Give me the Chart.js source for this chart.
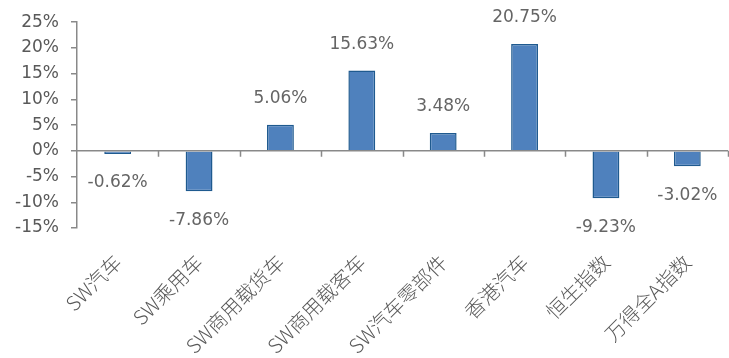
<!DOCTYPE html>
<html>
<head>
<meta charset="utf-8">
<script src="https://cdn.jsdelivr.net/npm/chart.js@4/dist/chart.umd.min.js"></script>
<style>
  html, body { margin: 0; padding: 0; background: #ffffff; }
  #wrap { width: 729px; height: 358px; position: relative; }
</style>
</head>
<body>
<div id="wrap"><canvas id="c" width="729" height="358"></canvas></div>
<script>
// Categories and returns (%)
const categories = ['SW汽车', 'SW乘用车', 'SW商用载货车', 'SW商用载客车', 'SW汽车零部件', '香港汽车', '恒生指数', '万得全A指数'];
const returns = [-0.62, -7.86, 5.06, 15.63, 3.48, 20.75, -9.23, -3.02];
const yTicks = [-15, -10, -5, 0, 5, 10, 15, 20, 25];

const axisGray = '#898989';
const textGray = '#595959';

// Zero baseline with small downward tick marks between categories
const zeroAxis = {
  id: 'zeroAxis',
  afterDatasetsDraw(chart) {
    const { ctx, chartArea, scales } = chart;
    const y0 = scales.y.getPixelForValue(0);
    const xs = scales.x;
    ctx.save();
    ctx.strokeStyle = axisGray;
    ctx.lineWidth = 1.5;
    ctx.beginPath();
    ctx.moveTo(chartArea.left, y0);
    ctx.lineTo(chartArea.right, y0);
    const n = chart.data.labels.length;
    for (let i = 1; i <= n; i++) {
      const x = i < n ? (xs.getPixelForTick(i - 1) + xs.getPixelForTick(i)) / 2 : chartArea.right;
      ctx.moveTo(Math.round(x) + 0.5, y0);
      ctx.lineTo(Math.round(x) + 0.5, y0 + 6);
    }
    ctx.stroke();
    ctx.restore();
  }
};

// Value labels above positive bars and below negative bars
const valueLabels = {
  id: 'valueLabels',
  afterDatasetsDraw(chart) {
    const { ctx } = chart;
    const meta = chart.getDatasetMeta(0);
    const data = chart.data.datasets[0].data;
    ctx.save();
    ctx.font = '17px "DejaVu Sans"';
    ctx.fillStyle = '#656565';
    ctx.textAlign = 'center';
    ctx.textBaseline = 'middle';
    meta.data.forEach((bar, i) => {
      const v = data[i];
      const y = v >= 0 ? bar.y - 26 : bar.y + 29;
      ctx.fillText(v.toFixed(2) + '%', bar.x, y);
    });
    ctx.restore();
  }
};

new Chart(document.getElementById('c'), {
  type: 'bar',
  data: {
    labels: categories,
    datasets: [{
      data: returns,
      backgroundColor: '#4f81bd',
      borderColor: '#1f5a8f',
      borderWidth: 1.5,
      categoryPercentage: 1,
      barPercentage: 0.33
    }]
  },
  options: {
    responsive: false,
    animation: false,
    layout: { padding: { top: 14, right: 1, left: 0, bottom: 0 } },
    plugins: { legend: { display: false }, tooltip: { enabled: false } },
    scales: {
      x: {
        grid: { display: false },
        border: { display: false },
        ticks: {
          color: textGray,
          font: { family: '"Noto Sans CJK SC", "DejaVu Sans"', size: 20, weight: 300 },
          maxRotation: 45,
          minRotation: 45,
          padding: 14,
          autoSkip: false
        },
        afterFit(scale) { scale.height = 130; }
      },
      y: {
        min: -15,
        max: 25,
        afterBuildTicks(scale) { scale.ticks = yTicks.map(v => ({ value: v })); },
        ticks: {
          color: textGray,
          font: { family: '"DejaVu Sans"', size: 17 },
          padding: 12,
          callback: v => v + '%'
        },
        grid: { drawOnChartArea: false, drawTicks: true, tickLength: 6, color: axisGray, lineWidth: 1.5 },
        border: { color: axisGray, width: 1.5 },
        afterFit(scale) { scale.width = 77; }
      }
    }
  },
  plugins: [zeroAxis, valueLabels]
});
</script>
</body>
</html>
